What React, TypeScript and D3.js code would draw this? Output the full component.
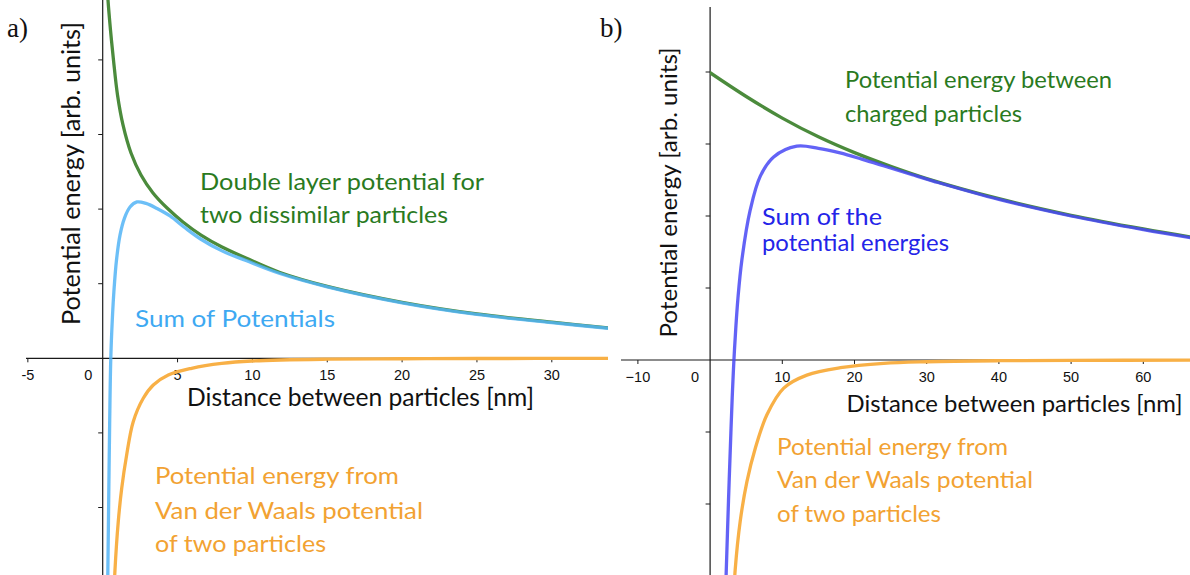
import React from "react";
import * as d3 from "d3";

// ---- Panel a: double layer vs. van der Waals (x in nm, y in arb. units)
const doubleLayerA: [number, number][] = [
  [0.3, 25.0], [0.354, 24.0], [0.521, 22.0], [0.721, 19.99], [0.989, 17.65],
  [1.356, 15.64], [1.891, 13.76], [2.558, 12.29], [3.36, 11.08], [4.3, 10.07],
  [5.36, 9.14], [6.57, 8.26], [7.97, 7.46], [9.57, 6.72], [11.84, 5.75],
  [15, 4.82], [20, 3.75], [25, 2.97], [30, 2.42], [34, 2.02],
];
const vanDerWaalsA: [number, number][] = [
  [0.78, -15.2], [0.82, -14.2], [1.04, -10.95], [1.27, -8.71], [1.6, -6.48],
  [2.04, -4.25], [2.71, -2.68], [3.38, -1.79], [4.38, -1.12], [5.94, -0.67],
  [7.95, -0.34], [9.95, -0.18], [15, -0.06], [20, -0.03], [25, -0.015], [34, -0.005],
];
const sumA: [number, number][] = [
  [0.33, -15.2], [0.341, -14.52], [0.401, -9.49], [0.468, -4.13], [0.541, 0.02],
  [0.641, 2.57], [0.755, 4.58], [0.922, 6.59], [1.156, 8.26], [1.456, 9.4],
  [1.824, 10.14], [2.291, 10.48], [2.892, 10.38], [3.627, 10.04], [4.495, 9.54],
  [5.497, 8.75], [6.566, 7.98], [7.969, 7.2], [9.572, 6.55], [11.84, 5.68],
  [15, 4.79], [20, 3.72], [25, 2.94], [30, 2.39], [34, 1.99],
];

// ---- Panel b: charged particles vs. van der Waals
const chargedB: [number, number][] = [
  [0, 39.9], [5, 36.6], [10, 33.6], [15, 31.0], [20, 28.8], [25, 26.9],
  [30, 25.2], [40, 22.4], [50, 20.1], [60, 18.2], [66.5, 17.1],
];
const vanDerWaalsB: [number, number][] = [
  [3.4, -30.5], [3.47, -29.2], [4.17, -22.4], [5.1, -16.9], [6.25, -12.3],
  [7.87, -7.6], [10.2, -3.9], [13.4, -2.1], [18.05, -1.07], [24.05, -0.46],
  [30, -0.24], [40, -0.1], [50, -0.05], [66.5, -0.02],
];
const sumB: [number, number][] = [
  [2.2, -30.5], [2.55, -19.5], [2.9, -9.5], [3.1, -4.3], [3.3, 0], [3.55, 4.3],
  [3.85, 8.5], [4.4, 13.9], [5.55, 20.8], [6.94, 25.5], [8.8, 28.2], [12.0, 29.7],
  [15, 29.4], [18, 28.76], [21, 27.9], [24, 26.98], [28, 25.73], [31, 24.82],
  [40, 22.3], [50, 20.0], [60, 18.1], [66.5, 17.0],
];

// ---- Ticks
const xTicksA = [-5, 0, 5, 10, 15, 20, 25, 30];
const xTickLabelsA = ["-5", "0", "5", "10", "15", "20", "25", "30"];
const yTicksA = [-10, -5, 5, 10, 15, 20];
const xTicksB = [-10, 0, 10, 20, 30, 40, 50, 60];
const xTickLabelsB = ["\u221210", "0", "10", "20", "30", "40", "50", "60"];
const yTicksB = [-20, -10, 10, 20, 30, 40];

const W = 1190;
const H = 575;

const GREEN_LINE = "#4b8b3c";
const GREEN_TEXT = "#2a7a1e";
const LIGHT_BLUE_LINE = "#52b4f6";
const LIGHT_BLUE_TEXT = "#3ea9f2";
const BLUE_LINE = "#4848f4";
const BLUE_TEXT = "#2424e8";
const ORANGE_LINE = "#f8b046";
const ORANGE_TEXT = "#f2a232";
const AXIS = "#1a1a1a";

const SANS = "Lato, 'Noto Sans', sans-serif";
const TICK_FONT = "'Liberation Sans', Arial, sans-serif";
const SERIF = "'Liberation Serif', 'DejaVu Serif', serif";

// scales
const xA = d3.scaleLinear().domain([0, 30]).range([102.7, 551.8]);
const yA = d3.scaleLinear().domain([0, 20]).range([358.3, 59.9]);
const xB = d3.scaleLinear().domain([0, 60]).range([710.1, 1143.3]);
const yB = d3.scaleLinear().domain([0, 40]).range([360, 72]);

const lineA = d3
  .line<[number, number]>()
  .x((d) => xA(d[0]))
  .y((d) => yA(d[1]))
  .curve(d3.curveCatmullRom.alpha(0.5));
const lineB = d3
  .line<[number, number]>()
  .x((d) => xB(d[0]))
  .y((d) => yB(d[1]))
  .curve(d3.curveCatmullRom.alpha(0.5));

type LabelProps = {
  x: number;
  y: number;
  w: number;
  size: number;
  fill: string;
  children: string;
};
function Label({ x, y, w, size, fill, children }: LabelProps) {
  return (
    <text
      x={x}
      y={y}
      fill={fill}
      fontFamily={SANS}
      fontSize={size}
      textLength={w}
      lengthAdjust="spacingAndGlyphs"
    >
      {children}
    </text>
  );
}

function VLabel({ cx, cy, len, size }: { cx: number; cy: number; len: number; size: number }) {
  return (
    <text
      transform={`translate(${cx},${cy}) rotate(-90)`}
      textAnchor="middle"
      fill="#111"
      fontFamily={SANS}
      fontSize={size}
      textLength={len}
      lengthAdjust="spacingAndGlyphs"
    >
      Potential energy [arb. units]
    </text>
  );
}

export default function App() {
  const axA = yA(0);
  const ayA = xA(0);
  const axB = yB(0);
  const ayB = xB(0);
  return (
    <svg
      width={W}
      height={H}
      viewBox={`0 0 ${W} ${H}`}
      style={{ position: "absolute", left: 0, top: 0, display: "block", background: "#fff" }}
    >
      <defs>
        <clipPath id="clipA">
          <rect x={ayA} y={0} width={608 - ayA} height={H} />
        </clipPath>
        <clipPath id="clipB">
          <rect x={ayB} y={0} width={W - ayB} height={H} />
        </clipPath>
      </defs>

      {/* ---------------- panel a ---------------- */}
      <g>
        <line x1={26} x2={608} y1={axA} y2={axA} stroke={AXIS} strokeWidth={1.2} />
        <line x1={ayA} x2={ayA} y1={0} y2={H} stroke={AXIS} strokeWidth={1.2} />
        {xTicksA.map((t, i) => (
          <g key={`xa${t}`}>
            {t !== 0 && (
              <line x1={xA(t)} x2={xA(t)} y1={axA} y2={axA + 4} stroke={AXIS} strokeWidth={1} />
            )}
            <text
              x={t === 0 ? xA(t) - 14.5 : xA(t)}
              y={axA + 22}
              textAnchor="middle"
              fontFamily={TICK_FONT}
              fontSize={14.5}
              fill="#111"
            >
              {xTickLabelsA[i]}
            </text>
          </g>
        ))}
        {yTicksA.map((t) => (
          <line key={`ya${t}`} x1={ayA - 4.5} x2={ayA} y1={yA(t)} y2={yA(t)} stroke={AXIS} strokeWidth={1} />
        ))}

        <g clipPath="url(#clipA)" fill="none" strokeWidth={3.3} strokeLinecap="round">
          <path d={lineA(vanDerWaalsA) ?? ""} stroke={ORANGE_LINE} />
          <path d={lineA(doubleLayerA) ?? ""} stroke={GREEN_LINE} />
          <path d={lineA(sumA) ?? ""} stroke={LIGHT_BLUE_LINE} strokeOpacity={0.85} />
        </g>

        <text x={7} y={37} fontFamily={SERIF} fontSize={27} fill="#111">
          a)
        </text>
        <Label x={200} y={190} w={284} size={23.5} fill={GREEN_TEXT}>
          Double layer potential for
        </Label>
        <Label x={200} y={223} w={248} size={23.5} fill={GREEN_TEXT}>
          two dissimilar particles
        </Label>
        <Label x={135} y={327} w={200} size={23.5} fill={LIGHT_BLUE_TEXT}>
          Sum of Potentials
        </Label>
        <Label x={187} y={406} w={347} size={25} fill="#111">
          Distance between particles [nm]
        </Label>
        <Label x={155} y={484} w={244} size={23.5} fill={ORANGE_TEXT}>
          Potential energy from
        </Label>
        <Label x={155} y={519} w={268} size={23.5} fill={ORANGE_TEXT}>
          Van der Waals potential
        </Label>
        <Label x={155} y={552} w={171} size={23.5} fill={ORANGE_TEXT}>
          of two particles
        </Label>
        <VLabel cx={80} cy={173.5} len={303} size={24.5} />
      </g>

      {/* ---------------- panel b ---------------- */}
      <g>
        <line x1={621} x2={W} y1={axB} y2={axB} stroke={AXIS} strokeWidth={1.2} />
        <line x1={ayB} x2={ayB} y1={7} y2={H} stroke={AXIS} strokeWidth={1.2} />
        {xTicksB.map((t, i) => (
          <g key={`xb${t}`}>
            {t !== 0 && (
              <line x1={xB(t)} x2={xB(t)} y1={axB} y2={axB + 4} stroke={AXIS} strokeWidth={1} />
            )}
            <text
              x={t === 0 ? xB(t) - 15 : xB(t)}
              y={axB + 21.5}
              textAnchor="middle"
              fontFamily={TICK_FONT}
              fontSize={14.5}
              fill="#111"
            >
              {xTickLabelsB[i]}
            </text>
          </g>
        ))}
        {yTicksB.map((t) => (
          <line key={`yb${t}`} x1={ayB - 4.5} x2={ayB} y1={yB(t)} y2={yB(t)} stroke={AXIS} strokeWidth={1} />
        ))}

        <g clipPath="url(#clipB)" fill="none" strokeWidth={3.3} strokeLinecap="round">
          <path d={lineB(vanDerWaalsB) ?? ""} stroke={ORANGE_LINE} />
          <path d={lineB(chargedB) ?? ""} stroke={GREEN_LINE} />
          <path d={lineB(sumB) ?? ""} stroke={BLUE_LINE} strokeOpacity={0.85} />
        </g>

        <text x={600} y={37} fontFamily={SERIF} fontSize={27} fill="#111">
          b)
        </text>
        <Label x={845} y={88} w={267} size={22.5} fill={GREEN_TEXT}>
          Potential energy between
        </Label>
        <Label x={845} y={121.5} w={177} size={22.5} fill={GREEN_TEXT}>
          charged particles
        </Label>
        <Label x={762} y={225} w={120} size={22.5} fill={BLUE_TEXT}>
          Sum of the
        </Label>
        <Label x={762} y={251} w={187} size={22.5} fill={BLUE_TEXT}>
          potential energies
        </Label>
        <Label x={846.5} y={412} w={336} size={24} fill="#111">
          Distance between particles [nm]
        </Label>
        <Label x={777} y={455} w={231} size={22.5} fill={ORANGE_TEXT}>
          Potential energy from
        </Label>
        <Label x={777} y={488} w={256} size={22.5} fill={ORANGE_TEXT}>
          Van der Waals potential
        </Label>
        <Label x={777} y={521.5} w={164} size={22.5} fill={ORANGE_TEXT}>
          of two particles
        </Label>
        <VLabel cx={677} cy={192.5} len={290} size={23.5} />
      </g>
    </svg>
  );
}
